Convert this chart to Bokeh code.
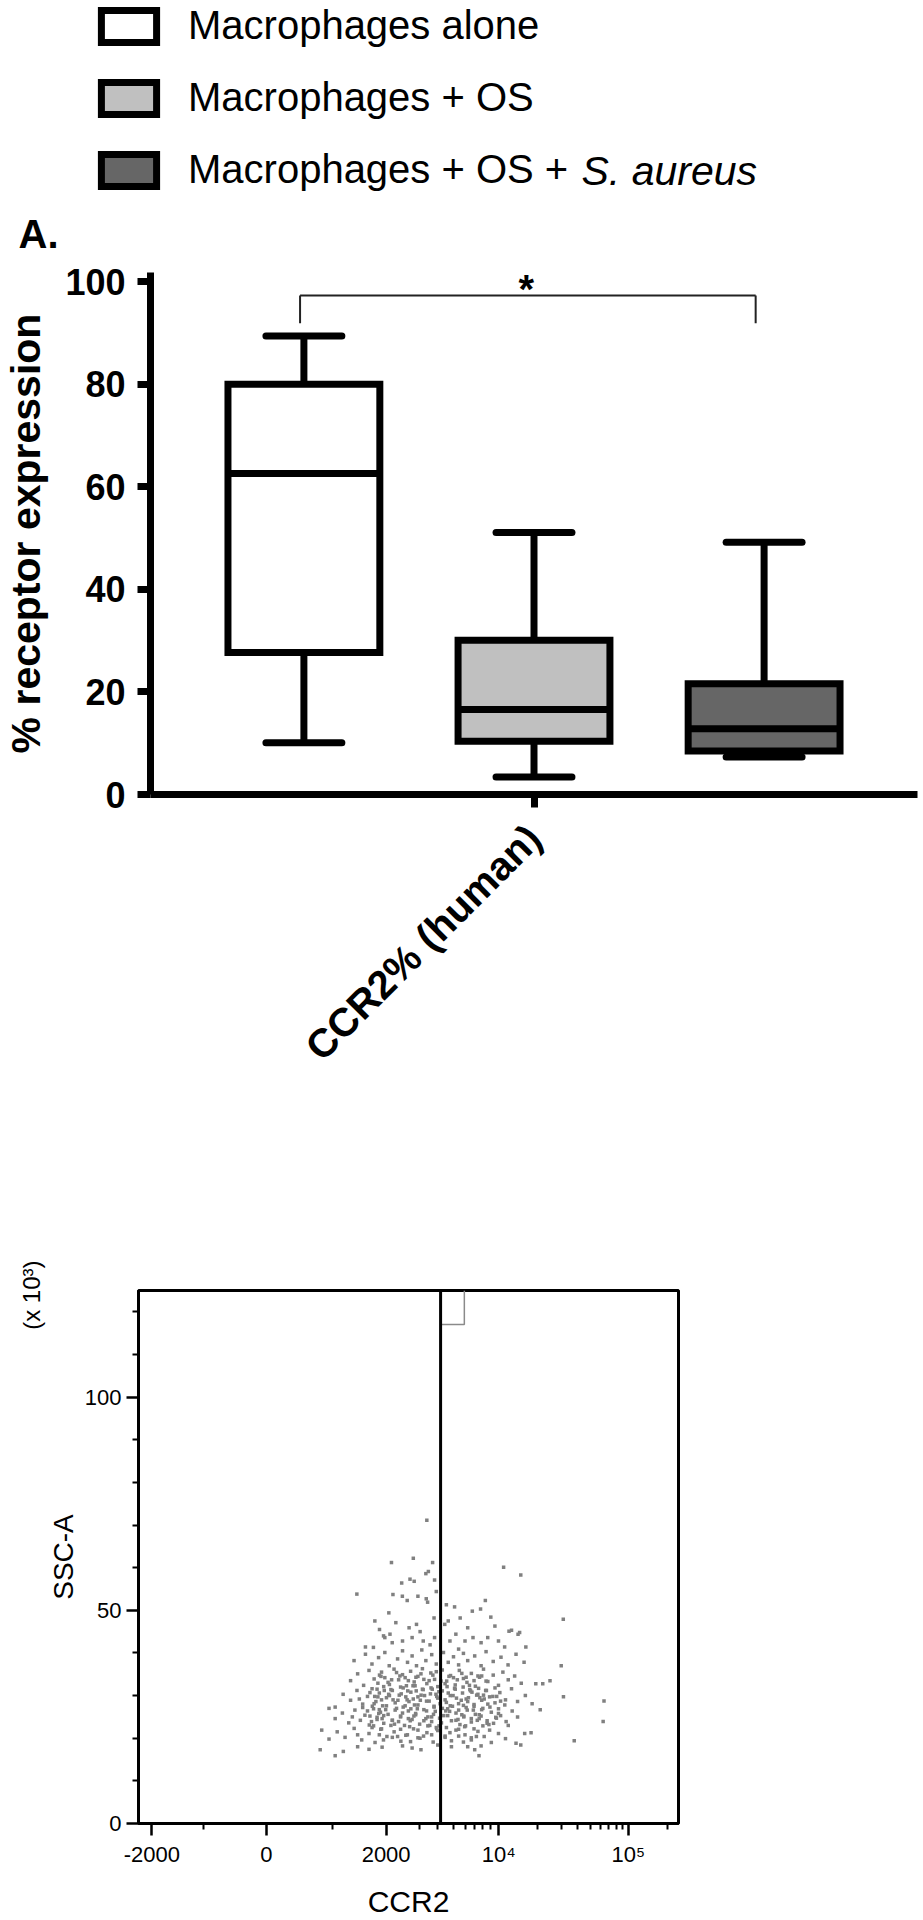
import numpy as np
from bokeh.plotting import figure
from bokeh.models import (ColumnDataSource, FactorRange, Range1d, Legend, LegendItem,
                          Label, FixedTicker, Span, Title)
from bokeh.transform import dodge
from bokeh.layouts import column
from bokeh.embed import file_html
from bokeh.resources import INLINE

FONT = "Liberation Sans"

# ---------------- Panel A: box plot data ----------------
category = "CCR2% (human)"
legend_labels = ["Macrophages alone", "Macrophages + OS", "Macrophages + OS + "]
legend_italic_suffix = "S. aureus"
panel_letter = "A."
box_colors = ["#ffffff", "#c0c0c0", "#666666"]
whisker_low = [10.1, 3.4, 7.3]
q1_values = [27.7, 10.4, 8.5]
median_values = [62.6, 16.6, 12.8]
q3_values = [80.0, 30.1, 21.6]
whisker_high = [89.4, 51.1, 49.2]
box_y_ticks = [0, 20, 40, 60, 80, 100]
bracket_top = 97.3
bracket_leg_bottom = 91.9
significance = "*"
significance_y = 98.5

# ---------------- Panel B: flow cytometry dot plot data ----------------
# CCR2 fluorescence (raw units) and SSC-A (x 10^3) of the events
ccr2_values = [
    3380, 2140, 2800, 3690, 3460, 3330, 2430, 2690, 2830, 3800, 1400, 2180, 2450, 2600, 2960, 3350, 3420, 3900, 2070, 10900,
    14800, 8300, 7700, 6700, 9000, 9500, 30900, 5500, 5050, 4500, 4400, 1750, 1940, 2100, 1560, 3770, 12000, 14500, 16200,
    2260, 2660, 2910, 3050, 2760, 2455, 2160, 1970, 3200, 3550, 3800, 1850, 1720, 4620, 5150, 4730, 5920, 6780, 7770, 8600,
    9960, 11100, 12550, 14100, 5370, 6190,
    1350, 1560, 1690, 1830, 1970, 2080, 2310, 2455, 2610, 2760, 2910, 3130, 3330, 3640, 3900, 4320, 4620, 4970, 5370, 5780,
    6190, 6980, 7770, 8390, 9290, 10400, 11800, 13600, 15700,
    1290, 1414, 1525, 1630, 1735, 1815, 1895, 1970, 2085, 2210, 2340, 2455, 2575, 2710, 2830, 2960, 3160, 3380, 3590, 3800,
    3990, 4250, 4520, 4770, 5100, 5430, 5780, 6110, 6590, 7060, 7570, 8080, 8610, 9290, 9960, 10760, 11840, 13270, 14930, 19340,
    21800, 24650, 29800,
    1850, 2050, 2280, 2535, 2790, 3090, 3500, 3900, 4420, 4970, 5640, 6380, 7370, 8390,
    1043, 1167, 1290, 1402, 1507, 1600, 1692, 1772, 1846, 1920, 2008, 2125, 2242, 2358, 2475, 2597, 2718, 2840, 2960, 3160,
    3365, 3570, 3770, 3990, 4250, 4500, 4750, 5050, 5370, 5700, 6030, 6420, 6900, 7370, 7850, 8340, 8840, 9510, 10190, 11270,
    12550, 13980, 16060, 18120, 20880, 31000, 64000,
    1445, 1649, 1815, 1957, 2183, 2416, 2657, 2900, 3265, 3670, 4120, 4620, 5200, 5780, 6660, 7610, 8610, 9730, 11130,
    1735, 2065, 2535, 3060, 3880, 4900, 6190, 8080,
    939, 1043, 1155, 1259, 1365, 1464, 1550, 1636, 1723, 1797, 1871, 1945, 2050, 2164, 2280, 2397, 2516, 2637, 2758, 2880,
    3028, 3230, 3434, 3636, 3840, 4060, 4340, 4580, 4830, 5160, 5480, 5810, 6140, 6590, 7060, 7530, 8000, 8520, 9060, 9690,
    10330, 11400, 12700, 13980, 63000,
    1320, 1507, 1680, 1833, 1990, 2222, 2455, 2697, 2940, 3330, 3740, 4200, 4710, 5320, 5970, 6820, 7770, 8750, 9960, 11840,
    1600, 1908, 2338, 2820, 3535, 4460, 5640, 7290, 9330,
    809, 939, 1074, 1198, 1352, 1489, 1630, 1754, 1877, 2020, 2212, 2405, 2606, 2809, 3045, 3383, 3720, 3990, 4420, 4830,
    5370, 5920, 6590, 7370, 8160, 9060, 9960, 11270, 13600, 15870, 17780, 37500,
    1414, 1692, 1939, 2310, 2708, 3215, 3900, 4730, 5780, 7180, 8840,
    783, 1043, 1170, 1414, 1630, 1908, 2455, 2760, 3090, 3990, 4830, 6190, 6980, 7500, 7770, 14800,
    1883, 2144, 2377, 2637, 2890, 3231, 3704, 4174, 4667, 5266, 6026, 6900, 7847,
    1797, 1944, 2163, 2397, 2617, 2860, 3197, 3602, 4051, 4544, 5103, 5754, 6505, 7452, 8433, 9513,
    1747, 1895, 2086, 2319, 2556, 2799, 3096, 3501, 3928, 4421, 4940, 5591, 6268, 7215, 8163, 9243, 10324,
    1698, 1846, 2008, 2241, 2475, 2718, 2961, 3366, 3771, 4256, 4749, 5374, 6026, 6900, 7847, 8883, 9964,
    1649, 1797, 1944, 2163, 2397, 2637, 2880, 3231, 3636, 4092, 4585, 5157, 5809, 6584, 7531, 8523, 9603,
    1723, 1895, 2125, 2397, 2678, 2961, 3434, 3928, 4503, 5157, 5890, 6900, 8005,
    1846, 2163, 2556, 2961, 3636, 4421, 5374, 6584,
]
ssc_values = [
    71.1, 61.2, 62.2, 61.2, 59.1, 58.6, 56.4, 57.3, 56.8, 57.1, 53.8, 53.7, 53.3, 52.3, 53.3, 52.7, 51.9, 54.4, 49.4, 60.1,
    58.3, 52.3, 50.3, 49.8, 48.4, 46.3, 47.9, 48.2, 50.8, 51.3, 46.7, 47.5, 44.0, 44.4, 41.4, 48.2, 45.1, 44.8, 41.4,
    47.1, 45.9, 46.7, 45.0, 43.6, 42.8, 42.4, 43.6, 42.8, 41.9, 43.6, 45.5, 41.3, 47.5, 44.4, 42.8, 42.8, 43.6, 42.4, 43.6,
    42.8, 41.4, 45.3, 44.4, 40.9, 45.9,
    38.2, 39.7, 37.4, 38.9, 40.1, 37.0, 38.6, 40.5, 37.8, 39.3, 37.0, 40.7, 38.2, 39.6, 37.4, 40.1, 37.8, 39.1, 37.2, 39.9,
    38.2, 39.3, 37.0, 40.3, 38.0, 39.0, 37.2, 39.7, 37.8,
    33.5, 35.1, 32.4, 35.9, 33.9, 32.9, 35.5, 34.2, 32.6, 36.2, 33.7, 34.9, 32.3, 35.7, 33.2, 34.5, 36.3, 32.8, 35.3, 33.8,
    32.1, 36.0, 33.4, 34.7, 32.5, 35.9, 34.0, 33.1, 35.2, 32.2, 34.3, 36.2, 33.3, 34.8, 32.4, 35.5, 33.7, 34.6, 32.9, 32.8,
    32.8, 33.5, 37.0,
    34.8, 33.1, 35.4, 34.2, 32.3, 35.1, 33.5, 35.6, 32.8, 34.2, 35.2, 32.4, 34.6, 33.4,
    27.3, 30.3, 28.9, 31.2, 28.0, 29.8, 31.6, 28.6, 30.6, 27.6, 29.5, 31.4, 28.3, 30.1, 31.8, 29.0, 30.8, 27.8, 29.7, 31.5,
    28.7, 30.4, 27.5, 29.4, 31.1, 28.4, 30.0, 31.7, 28.1, 30.6, 29.2, 31.4, 27.9, 30.3, 28.9, 31.2, 29.7, 28.3, 30.7, 29.0,
    31.6, 28.6, 30.0, 28.1, 26.7, 29.7, 28.7,
    29.2, 30.7, 29.7, 31.2, 29.0, 30.4, 28.6, 31.1, 30.0, 31.5, 28.1, 30.6, 29.4, 27.7, 30.8, 29.5, 28.0, 29.8, 27.8,
    28.1, 30.3, 27.6, 28.9, 30.3, 27.5, 28.6, 30.1,
    27.0, 24.6, 25.9, 23.6, 26.6, 24.2, 25.4, 23.1, 26.9, 24.9, 26.1, 23.5, 25.6, 24.2, 27.0, 25.2, 23.0, 26.4, 24.4, 25.8,
    23.3, 26.7, 25.0, 23.9, 26.3, 22.9, 25.3, 26.9, 24.1, 25.9, 23.2, 25.0, 26.6, 23.8, 25.6, 24.6, 27.0, 23.5, 26.1, 24.7,
    25.3, 23.9, 26.4, 25.0, 23.9,
    25.0, 27.2, 23.9, 25.8, 26.7, 23.3, 25.9, 24.1, 26.9, 24.6, 25.6, 23.6, 26.3, 24.4, 22.9, 26.6, 25.2, 23.2, 25.8, 23.0,
    26.4, 24.6, 23.9, 25.2, 23.0, 26.4, 25.5, 24.2, 23.5,
    21.9, 19.8, 21.5, 20.2, 22.3, 19.6, 21.1, 19.0, 22.1, 20.4, 21.5, 19.3, 20.8, 22.2, 20.0, 21.3, 19.1, 21.8, 20.5, 19.4,
    22.1, 20.8, 19.6, 21.6, 20.4, 19.0, 21.1, 19.9, 18.8, 21.1, 21.3, 19.4,
    20.8, 22.5, 19.6, 20.4, 19.2, 20.5, 22.5, 21.3, 19.1, 20.4, 21.9,
    17.3, 15.9, 16.9, 18.0, 17.4, 17.9, 18.2, 17.7, 17.3, 18.4, 18.0, 18.0, 17.3, 15.9, 18.2, 18.4,
    34.5, 33.7, 34.6, 33.5, 34.3, 33.8, 34.8, 33.4, 34.5, 33.7, 34.3, 33.5, 34.6,
    31.5, 32.1, 31.2, 32.0, 31.1, 32.3, 31.4, 31.8, 30.9, 32.1, 31.5, 32.0, 31.1, 31.7, 31.2, 31.8,
    29.8, 29.0, 30.0, 28.9, 29.7, 29.2, 30.1, 28.7, 29.8, 29.0, 30.0, 28.9, 29.5, 30.1, 29.2, 29.8, 28.7,
    27.5, 26.7, 27.6, 26.6, 27.3, 26.9, 27.8, 26.4, 27.3, 27.0, 27.6, 26.6, 27.2, 27.5, 26.7, 27.3, 26.9,
    25.2, 24.4, 25.3, 24.2, 25.0, 24.6, 25.5, 24.1, 25.0, 24.7, 25.3, 24.2, 25.2, 24.6, 25.5, 24.1, 24.9,
    22.9, 22.2, 23.0, 22.1, 22.7, 21.9, 22.9, 22.2, 22.5, 21.9, 22.7, 22.2, 22.9,
    20.8, 20.2, 20.7, 20.1, 20.8, 20.2, 20.5, 20.1,
]
gate_ccr2 = 4150
gate_label_ccr2 = 5860
gate_label_ssc = 117.0
ccr2_major_ticks = [-2000, 0, 2000, 10000, 100000]
ccr2_major_labels = ["-2000", "0", "2000", "10\u2074", "10\u2075"]
ccr2_minor_ticks = [-1000, 1000, 3000, 4000, 5000, 6000, 7000, 8000, 9000,
                    20000, 30000, 40000, 50000, 60000, 70000, 80000, 90000, 200000]
ssc_major_ticks = [0, 50, 100]
ssc_minor_ticks = [10, 20, 30, 40, 60, 70, 80, 90, 110, 120]
ccr2_limits = [-2225, 244000]
ssc_limits = [0, 125]
ssc_title = "SSC-A"
ssc_unit = "(x 10\u00b3)"

# Biexponential display scale of the CCR2 axis (axis calibration: value -> display unit)
biex_scale_values = np.array([-3000, -2000, -1000, 0, 1000, 2000, 3000, 4000, 5000, 6000, 7000,
                              8000, 9000, 1e4, 2e4, 3e4, 5e4, 1e5, 2e5, 1e6])
biex_scale_units = np.array([-167, -115, -63, 0, 66, 120, 153, 172, 188, 200, 209,
                             217, 225, 233, 272, 296, 325, 363, 402, 493], dtype=float)


def biex(v):
    v = np.asarray(v, dtype=float)
    return np.interp(np.arcsinh(v / 1000.0), np.arcsinh(biex_scale_values / 1000.0), biex_scale_units)


# =============== Header figure: legend and panel letter ===============
HL = 258
pL = figure(width=920, height=HL, x_range=Range1d(0, 920), y_range=Range1d(HL, 0),
            output_backend="svg", toolbar_location=None, x_axis_location=None, y_axis_location=None,
            min_border=0, frame_align=False)
pL.outline_line_color = None
pL.grid.grid_line_color = None
pL.background_fill_color = "white"
pL.border_fill_color = "white"
legend_renderers = []
for i in range(3):
    r = pL.vbar(x=[0], width=1, bottom=[q1_values[i]], top=[q3_values[i]], fill_color=box_colors[i],
                line_color="black", line_width=7, line_join="miter", visible=False)
    legend_renderers.append(r)
legend = Legend(items=[LegendItem(label=legend_labels[i], renderers=[legend_renderers[i]]) for i in range(3)],
                location=(94, HL - 192), orientation="vertical",
                label_text_font=FONT, label_text_font_size="40px", label_text_color="black",
                glyph_width=69, glyph_height=40, label_standoff=25, spacing=27,
                padding=0, margin=0, border_line_color=None, background_fill_alpha=0)
pL.add_layout(legend)
pL.add_layout(Label(x=581, y=170, text=legend_italic_suffix, text_font=FONT, text_font_size="41px",
                    text_font_style="italic", text_baseline="middle", text_color="black"))
pL.add_layout(Label(x=18, y=233, text=panel_letter, text_font=FONT, text_font_size="40px",
                    text_font_style="bold", text_baseline="middle", text_color="black"))

# =============== Figure A: box plot ===============
offsets = [-0.3, 0.0, 0.3]
box_w = 0.198
cap_w = 0.099

pA = figure(width=920, height=842, x_range=FactorRange(factors=[category]), y_range=Range1d(0, 101.8),
            output_backend="svg", toolbar_location=None, frame_align=False,
            min_border_left=148, min_border_right=3, min_border_top=14, min_border_bottom=306)
pA.outline_line_color = None
pA.xgrid.grid_line_color = None
pA.ygrid.grid_line_color = None
pA.background_fill_color = "white"
pA.border_fill_color = "white"

for i in range(3):
    src = ColumnDataSource(dict(cat=[category], lo=[whisker_low[i]], q1=[q1_values[i]],
                                med=[median_values[i]], q3=[q3_values[i]], hi=[whisker_high[i]]))
    xc = dodge("cat", offsets[i], range=pA.x_range)
    xl = dodge("cat", offsets[i] - cap_w / 2, range=pA.x_range)
    xr = dodge("cat", offsets[i] + cap_w / 2, range=pA.x_range)
    ml = dodge("cat", offsets[i] - box_w / 2, range=pA.x_range)
    mr = dodge("cat", offsets[i] + box_w / 2, range=pA.x_range)
    pA.segment(x0=xc, y0="q3", x1=xc, y1="hi", source=src, line_color="black", line_width=7)
    pA.segment(x0=xc, y0="q1", x1=xc, y1="lo", source=src, line_color="black", line_width=7)
    pA.segment(x0=xl, y0="hi", x1=xr, y1="hi", source=src, line_color="black", line_width=7, line_cap="round")
    pA.segment(x0=xl, y0="lo", x1=xr, y1="lo", source=src, line_color="black", line_width=7, line_cap="round")
    pA.vbar(x=xc, width=box_w, bottom="q1", top="q3", source=src, fill_color=box_colors[i],
            line_color="black", line_width=7, line_join="miter")
    pA.segment(x0=ml, y0="med", x1=mr, y1="med", source=src, line_color="black", line_width=7)

# significance bracket between group 1 and group 3
bsrc = ColumnDataSource(dict(cat=[category], top=[bracket_top], bot=[bracket_leg_bottom]))
bl = dodge("cat", offsets[0] - 0.005, range=pA.x_range)
br = dodge("cat", offsets[2] - 0.011, range=pA.x_range)
pA.segment(x0=bl, y0="top", x1=br, y1="top", source=bsrc, line_color="#222222", line_width=2)
pA.segment(x0=bl, y0="top", x1=bl, y1="bot", source=bsrc, line_color="#222222", line_width=2)
pA.segment(x0=br, y0="top", x1=br, y1="bot", source=bsrc, line_color="#222222", line_width=2)
pA.add_layout(Label(x=0.49, y=significance_y, text=significance, text_align="center",
                    text_baseline="middle", text_font=FONT, text_font_size="40px",
                    text_font_style="bold", text_color="black"))

ya = pA.yaxis[0]
ya.ticker = FixedTicker(ticks=box_y_ticks)
ya.axis_label = "% receptor expression"
ya.axis_label_text_font = FONT
ya.axis_label_text_font_size = "41px"
ya.axis_label_text_font_style = "bold"
ya.axis_label_text_color = "black"
ya.axis_label_standoff = 13
ya.major_label_text_font = FONT
ya.major_label_text_font_size = "36px"
ya.major_label_text_font_style = "bold"
ya.major_label_text_color = "black"
ya.major_label_standoff = 12
ya.axis_line_width = 7
ya.axis_line_color = "black"
ya.major_tick_line_width = 7
ya.major_tick_line_color = "black"
ya.major_tick_out = 13
ya.major_tick_in = 0
ya.minor_tick_line_color = None

xa = pA.xaxis[0]
xa.major_label_orientation = np.pi / 4
xa.major_label_text_font = FONT
xa.major_label_text_font_size = "40px"
xa.major_label_text_font_style = "bold"
xa.major_label_text_color = "black"
xa.major_label_standoff = 24
xa.axis_line_width = 7
xa.axis_line_color = "black"
xa.major_tick_line_width = 7
xa.major_tick_line_color = "black"
xa.major_tick_out = 13
xa.major_tick_in = 0

# =============== Figure B: dot plot ===============
xr_lim = biex(ccr2_limits)
pB = figure(width=700, height=820, x_range=Range1d(float(xr_lim[0]), float(xr_lim[1])),
            y_range=Range1d(*ssc_limits), output_backend="svg", toolbar_location=None, frame_align=False,
            min_border_left=138, min_border_right=22, min_border_top=190, min_border_bottom=92)
pB.xgrid.grid_line_color = None
pB.ygrid.grid_line_color = None
pB.outline_line_color = "black"
pB.outline_line_width = 3
pB.background_fill_color = "white"
pB.border_fill_color = "white"

dots = ColumnDataSource(dict(x=biex(ccr2_values), ssc=ssc_values))
pB.scatter(x="x", y="ssc", source=dots, marker="square", size=3.5, fill_color="#808080",
           line_color=None)

gx = float(biex(gate_ccr2))
pB.add_layout(Span(location=gx, dimension="height", line_color="black", line_width=3))
pB.line(x=[gx, float(biex(gate_label_ccr2)), float(biex(gate_label_ccr2))],
        y=[gate_label_ssc, gate_label_ssc, ssc_limits[1]], line_color="#8a8a8a", line_width=1.5)

bx = pB.xaxis[0]
maj = [float(t) for t in biex(ccr2_major_ticks)]
bx.ticker = FixedTicker(ticks=maj, minor_ticks=[float(t) for t in biex(ccr2_minor_ticks)])
bx.major_label_overrides = {t: lab for t, lab in zip(maj, ccr2_major_labels)}
bx.axis_label = "CCR2"
by = pB.yaxis[0]
by.ticker = FixedTicker(ticks=ssc_major_ticks, minor_ticks=ssc_minor_ticks)
by.axis_label = ssc_title
for ax in (bx, by):
    ax.axis_label_text_font = FONT
    ax.axis_label_text_font_style = "normal"
    ax.axis_label_text_color = "black"
    ax.major_label_text_font = FONT
    ax.major_label_text_font_size = "22px"
    ax.major_label_text_color = "black"
    ax.axis_line_width = 3
    ax.axis_line_color = "black"
    ax.major_tick_line_width = 2.5
    ax.major_tick_line_color = "black"
    ax.minor_tick_line_width = 2
    ax.minor_tick_line_color = "black"
    ax.major_tick_in = 0
    ax.minor_tick_in = 0
    ax.major_tick_out = 12
    ax.minor_tick_out = 6
bx.axis_label_text_font_size = "30px"
bx.major_label_standoff = 6
bx.axis_label_standoff = 15
by.axis_label_text_font_size = "28px"
by.major_label_standoff = 5
by.axis_label_standoff = 3

# unit of the SSC-A axis, at the top end of the left side
pB.add_layout(Title(text=ssc_unit, align="right", text_font=FONT, text_font_size="24px",
                    text_font_style="normal", text_color="black", standoff=0, offset=-30), "left")

layout = column(pL, pA, pB, spacing=0)
open("out.html", "w").write(file_html(layout, INLINE))
